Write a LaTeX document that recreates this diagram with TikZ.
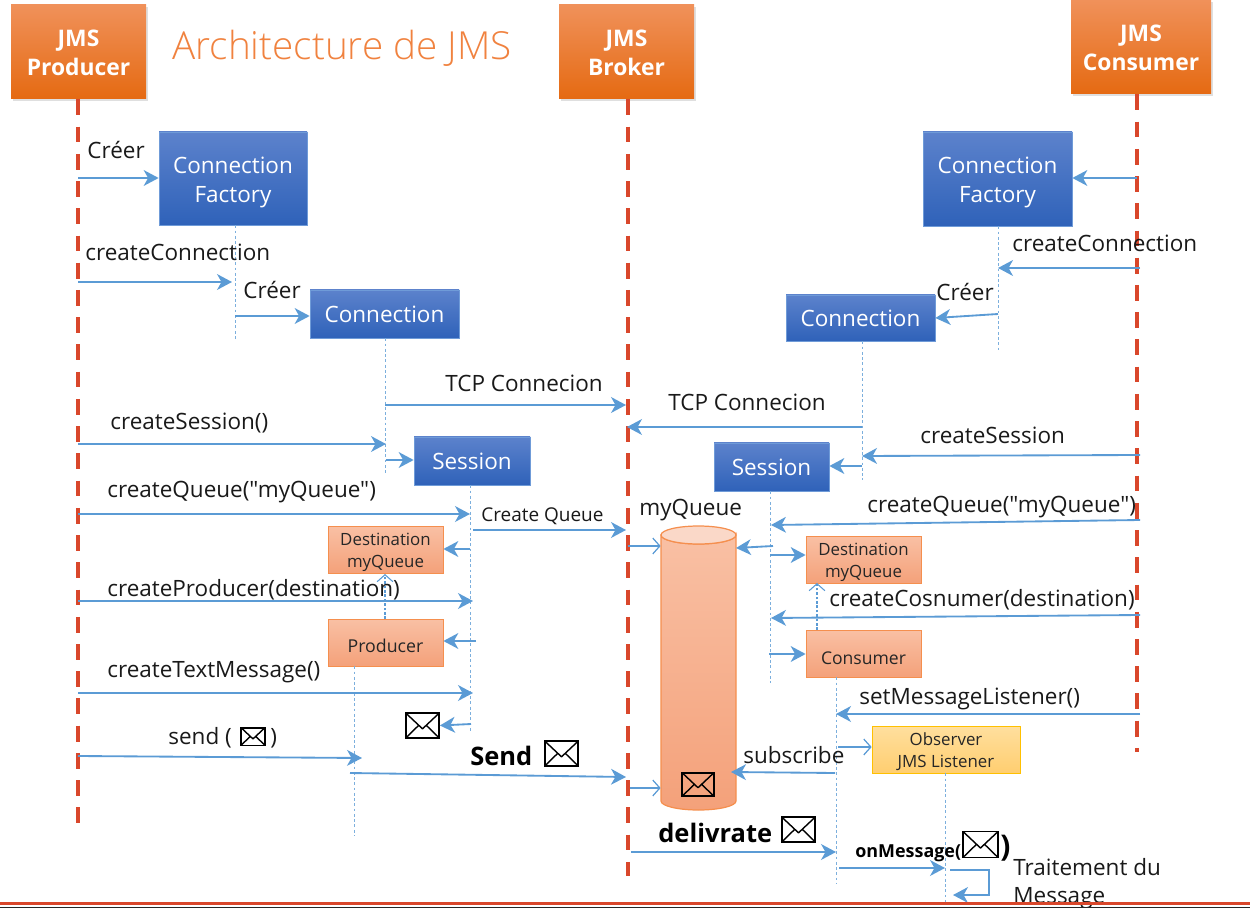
\documentclass[tikz,border=0pt]{standalone}
\usepackage{fontspec}
\setmainfont{Open Sans}[Ligatures=TeXOff]
\newfontfamily\lightfont{Open Sans Light}
\usetikzlibrary{arrows.meta,shadows}
\newcommand{\pxl}{0.02cm}
\newcommand{\dropline}[1]{\rule{0pt}{#1}}
\definecolor{arrowblue}{HTML}{5B9BD5}
\definecolor{lifered}{HTML}{D9472B}
\definecolor{titleorange}{HTML}{F0823F}
\definecolor{hdrtop}{HTML}{F0915A}
\definecolor{hdrmid}{HTML}{F47B2E}
\definecolor{hdrbot}{HTML}{E56A12}
\definecolor{bluetop}{HTML}{5C82CC}
\definecolor{bluebot}{HTML}{2F62B9}
\definecolor{blueedge}{HTML}{6F9BD8}
\definecolor{salmontop}{HTML}{F9C0A4}
\definecolor{salmonbot}{HTML}{F4A17A}
\definecolor{salmonedge}{HTML}{F58F4E}
\definecolor{salmoncap}{HTML}{FAD8C8}
\definecolor{yellowtop}{HTML}{FFDF9E}
\definecolor{yellowbot}{HTML}{FFCE70}
\definecolor{yellowedge}{HTML}{FFC000}
\tikzset{
  header/.style={inner sep=0,align=center,text=white,font=\fontsize{13}{16.5}\selectfont\bfseries,
    minimum width=135*\pxl,minimum height=94*\pxl,
    top color=hdrtop,middle color=hdrmid,bottom color=hdrbot,
    drop shadow={shadow xshift=1pt,shadow yshift=-1pt,opacity=.25}},
  bluebox/.style={inner sep=0,align=center,text=white,font=\fontsize{12.8}{16.5}\selectfont,
    top color=bluetop,bottom color=bluebot,draw=blueedge,thin},
  salmon/.style={inner sep=0,align=center,font=\fontsize{9.6}{12.7}\selectfont,text=black!85,
    minimum width=115*\pxl,minimum height=47*\pxl,
    top color=salmontop,bottom color=salmonbot,draw=salmonedge},
  listener/.style={inner sep=0,align=center,font=\fontsize{9.6}{12.7}\selectfont,text=black!85,
    minimum width=148*\pxl,minimum height=47*\pxl,
    top color=yellowtop,bottom color=yellowbot,draw=yellowedge},
  envelope/.style={draw=black,line width=1pt,inner sep=0,minimum width=#1*\pxl,minimum height=0.74*#1*\pxl,
    path picture={\draw[line width=.8pt,line join=round]
      (path picture bounding box.north west) -- ([yshift=-.1*#1*\pxl]path picture bounding box.center)
      -- (path picture bounding box.north east)
      (path picture bounding box.south west) -- ([xshift=-.12*#1*\pxl]path picture bounding box.center)
      (path picture bounding box.south east) -- ([xshift=.12*#1*\pxl]path picture bounding box.center);}},
  lifeline/.style={draw=lifered,line width=1.9pt,dash pattern=on 9pt off 6.5pt},
  dots/.style={draw=arrowblue!80!white,line width=.55pt,dash pattern=on 1.6pt off 1.4pt},
  msg/.style={draw=arrowblue,line width=1.05pt,-{Stealth[inset=2.5pt,length=8.5pt,width=9pt]}},
  thinmsg/.style={draw=arrowblue,line width=.7pt,-{Straight Barb[length=4pt,width=9pt]}},
  dotmsg/.style={draw=arrowblue,line width=.8pt,dash pattern=on 1.5pt off 1pt,-{Straight Barb[length=4pt,width=9pt,line width=.6pt]}},
  lbl/.style={anchor=west,inner sep=0,text=black!90,text height=10.2pt,text depth=0pt,font=\fontsize{12.8}{15}\selectfont},
  lblbold/.style={anchor=west,inner sep=0,text=black,text height=10.2pt,text depth=0pt,font=\fontsize{14.5}{16}\selectfont\bfseries}
}
\begin{document}
\begin{tikzpicture}[x=0.02cm,y=-0.02cm]
  \useasboundingbox (0,0) rectangle (1250,908);
  % actors
  \node[header] (producer) at (78.5,52) {\dropline{10pt}JMS\\Producer};
  \node[header] (broker) at (626.5,52) {\dropline{10pt}JMS\\Broker};
  \node[header,minimum width=140*\pxl] (consumer) at (1141,47) {\dropline{10pt}JMS\\Consumer};
  \node[anchor=west,inner sep=0,text=titleorange,font=\lightfont\fontsize{22}{26}\selectfont] (title) at (172,48) {Architecture de JMS};
  % objects
  \node[bluebox,minimum width=148*\pxl,minimum height=93*\pxl] (factP) at (233,178.5) {\dropline{13.8pt}Connection\\Factory};
  \node[bluebox,minimum width=149*\pxl,minimum height=94*\pxl] (factC) at (997.5,179) {\dropline{13.8pt}Connection\\Factory};
  \node[bluebox,minimum width=149*\pxl,minimum height=48*\pxl] (connP) at (384.5,314) {Connection};
  \node[bluebox,minimum width=149*\pxl,minimum height=46*\pxl] (connC) at (860.5,318) {Connection};
  \node[bluebox,minimum width=116*\pxl,minimum height=48*\pxl] (sessP) at (472,461) {Session};
  \node[bluebox,minimum width=115*\pxl,minimum height=48*\pxl] (sessC) at (771.5,467) {Session};
  \node[salmon] (destP) at (385.5,549.5) {\dropline{10.5pt}Destination\\myQueue};
  \node[salmon,font=\fontsize{10.1}{12.7}\selectfont] (prod) at (385.5,642.5) {\dropline{12pt}Producer};
  \node[salmon] (destC) at (863.5,559.5) {\dropline{10.5pt}Destination\\myQueue};
  \node[salmon,font=\fontsize{10}{12.7}\selectfont] (cons) at (863.5,653.5) {\dropline{13pt}Consumer};
  \node[listener] (observer) at (946,749.5) {\dropline{10pt}Observer\\JMS Listener};
  % the queue
  \path[top color=salmontop,bottom color=salmonbot,draw=salmonedge,line width=.7pt]
    (661,535) -- (661,801) arc[start angle=180,end angle=0,x radius=37.5,y radius=9]
    -- (736,535) arc[start angle=0,end angle=180,x radius=37.5,y radius=9] -- cycle;
  \draw[fill=salmoncap,draw=salmonedge,line width=.7pt] (698.5,535) circle[x radius=37.5,y radius=9];
  \node[minimum width=75*\pxl,minimum height=284*\pxl,inner sep=0] (queue) at (698.5,668) {};
  % envelopes
  \node[envelope=33] (envP) at (422.5,725.5) {};
  \node[envelope=24] (envSend) at (253,736.5) {};
  \node[envelope=33] (envBold) at (561.5,753.5) {};
  \node[envelope=32] (envQ) at (698,784.5) {};
  \node[envelope=33] (envDel) at (798.5,829.5) {};
  \node[envelope=35] (envMsg) at (980.5,844.5) {};
  % free ends
  \foreach \nm/\xx/\yy in {endP/78/825,endB/628/876,endC/1137/752,
      fpEnd/235/340,fcEnd/998/352,cpEnd/385/475,ccEnd/862/480,spEnd/470/733,scEnd/770/683,
      prEnd/354/836,coEnd/836/884,obEnd/945/905,
      a1/78/178,a2/78/282,a3/232/282,a4/235/316,a5/385/405,a6/626/405,a7/78/444,a8/386/444,
      a9/386/460,a10/78/514,a11/470/514,a12/473/530,a13/626/530,a14/470/549,a15/78/601,a16/473/601,
      a17/385/619,a18/385/574,a19/476/641,a20/78/693,a21/473/693,a22/471/724,a23/78/756,a24/362/758,
      a25/350/773,a26/626/777,a27/630/788,a28/628/546,
      b1/1137/178,b2/1140/268,b3/998/268,b4/998/314,b5/862/427,b6/627/427,b7/1140/455,b8/862/456,
      b9/862/466,b10/1140/520,b11/771/525,b12/773/546,b13/736/548,b14/770/555,b15/1140/615,b16/771/618,
      b17/817/630,b18/817/583,b19/769/654,b20/1140/714,b21/836/714,b22/838/747,b23/835/773,b24/731/772,
      b25/631/852,b26/836/852,b27/839/868,b28/945/868,
      s1/950/870,s2/989/870,s3/989/895,s4/953/895}
    {\coordinate (\nm) at (\xx,\yy);}
  % lifelines
  \draw[lifeline] (producer.south -| endP) -- (endP);
  \draw[lifeline] (broker.south -| endB) -- (endB);
  \draw[lifeline] (consumer.south -| endC) -- (endC);
  \draw[dots] (factP.south -| fpEnd) -- (fpEnd);
  \draw[dots] (factC.south -| fcEnd) -- (fcEnd);
  \draw[dots] (connP.south -| cpEnd) -- (cpEnd);
  \draw[dots] (connC.south -| ccEnd) -- (ccEnd);
  \draw[dots] (sessP.south -| spEnd) -- (spEnd);
  \draw[dots] (sessC.south -| scEnd) -- (scEnd);
  \draw[dots] (prod.south -| prEnd) -- (prEnd);
  \draw[dots] (cons.south -| coEnd) -- (coEnd);
  \draw[dots] (observer.south -| obEnd) -- (obEnd);
  % producer side
  \draw[msg] (a1) -- (a1 -| factP.west);
  \draw[msg] (a2) -- (a3);
  \draw[msg] (a4) -- (a4 -| connP.west);
  \draw[msg] (a5) -- (a6);
  \draw[msg] (a7) -- (a8);
  \draw[msg] (a9) -- (a9 -| sessP.west);
  \draw[msg] (a10) -- (a11);
  \draw[msg] (a12) -- (a13);
  \draw[msg] (a14) -- (a14 -| destP.east);
  \draw[msg] (a15) -- (a16);
  \draw[dotmsg] (a17) -- (a18);
  \draw[msg] (a19) -- (a19 -| prod.east);
  \draw[msg] (a20) -- (a21);
  \draw[msg] (a22) -- (envP.east);
  \draw[msg] (a23) -- (a24);
  \draw[msg] (a25) -- (a26);
  \draw[thinmsg] (a27) -- (a27 -| queue.west);
  \draw[thinmsg] (a28) -- (a28 -| queue.west);
  % consumer side
  \draw[msg] (b1) -- (b1 -| factC.east);
  \draw[msg] (b2) -- (b3);
  \draw[msg] (b4) -- (connC.east);
  \draw[msg] (b5) -- (b6);
  \draw[msg] (b7) -- (b8);
  \draw[msg] (b9) -- (b9 -| sessC.east);
  \draw[msg] (b10) -- (b11);
  \draw[msg] (b12) -- (b13);
  \draw[msg] (b14) -- (b14 -| destC.west);
  \draw[msg] (b15) -- (b16);
  \draw[dotmsg] (b17) -- (b18);
  \draw[msg] (b19) -- (b19 -| cons.west);
  \draw[msg] (b20) -- (b21);
  \draw[thinmsg] (b22) -- (b22 -| observer.west);
  \draw[msg] (b23) -- (b24);
  \draw[msg] (b25) -- (b26);
  \draw[msg] (b27) -- (b28);
  \draw[msg] (s1) -- (s2) -- (s3) -- (s4);
  % labels
  \node[lbl] (l1) at (87,150) {Créer};
  \node[lbl] (l2) at (85,252) {createConnection};
  \node[lbl] (l3) at (243,290) {Créer};
  \node[lbl] (l4) at (445,383) {TCP Connecion};
  \node[lbl] (l5) at (110,421) {createSession()};
  \node[lbl] (l6) at (107,489) {createQueue("myQueue")};
  \node[lbl,text height=8.6pt,font=\fontsize{10.8}{12}\selectfont] (l7) at (481,514) {Create Queue};
  \node[lbl] (l8) at (107,588) {createProducer(destination)};
  \node[lbl] (l9) at (107,669) {createTextMessage()};
  \node[lbl] (l10) at (168,736) {send (};
  \node[lbl] (l11) at (270,736) {)};
  \node[lblbold] (l12) at (470,757) {Send};
  \node[lbl] (r1) at (1012,243) {createConnection};
  \node[lbl] (r2) at (936,292) {Créer};
  \node[lbl] (r3) at (668,402) {TCP Connecion};
  \node[lbl] (r4) at (920,435) {createSession};
  \node[lbl] (r5) at (639,507) {myQueue};
  \node[lbl] (r6) at (867,504) {createQueue("myQueue")};
  \node[lbl] (r7) at (829,598) {createCosnumer(destination)};
  \node[lbl] (r8) at (859,696) {setMessageListener()};
  \node[lbl] (r9) at (743,755) {subscribe};
  \node[lblbold] (r10) at (658,834) {delivrate};
  \node[lblbold,text height=8pt,font=\fontsize{10.2}{12}\selectfont\bfseries] (r11) at (855,850) {onMessage(};
  \node[lblbold,font=\fontsize{17}{19}\selectfont\bfseries] (r12) at (1000,848) {)};
  \node[lbl] (r13) at (1013,867) {Traitement du};
  \node[lbl] (r14) at (1013,895) {Message};
  % bottom rule
  \coordinate (ruleL) at (0,903);
  \coordinate (ruleR) at (1250,903);
  \coordinate (baseL) at (0,907.5);
  \coordinate (baseR) at (1250,907.5);
  \draw[draw=lifered,line width=1.7pt] (ruleL) -- (ruleR);
  \draw[draw=black!85,line width=.6pt] (baseL) -- (baseR);
\end{tikzpicture}
\end{document}
